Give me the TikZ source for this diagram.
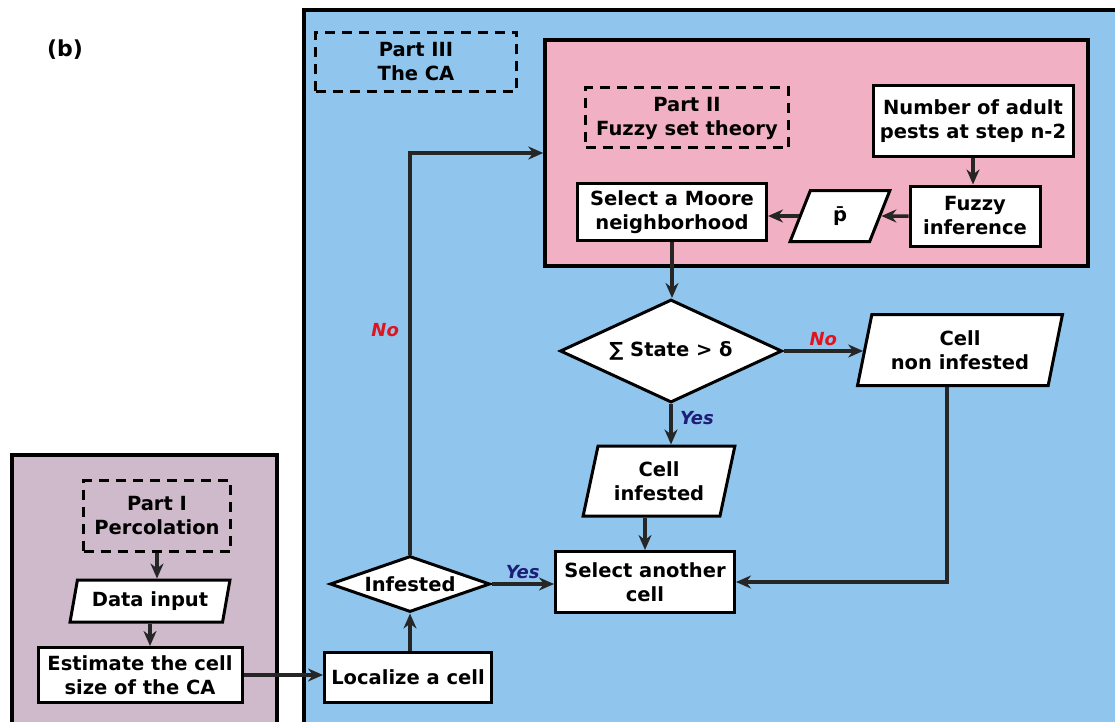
\documentclass[tikz,border=0pt]{standalone}
\usepackage{fontspec}
\setmainfont{DejaVu Sans}
\usetikzlibrary{arrows.meta,shapes.geometric}
\definecolor{panelblue}{RGB}{144,198,237}
\definecolor{panelpink}{RGB}{242,176,196}
\definecolor{panelmauve}{RGB}{206,186,203}
\definecolor{nored}{RGB}{225,20,30}
\definecolor{yesblue}{RGB}{30,30,120}
\tikzset{
  box/.style={draw, line width=3pt, fill=white, align=center, inner sep=2pt,
    font=\bfseries\fontsize{19.5}{24}\selectfont},
  databox/.style={box, trapezium, trapezium left angle=75, trapezium right angle=105,
    trapezium stretches=true},
  testbox/.style={box, diamond, inner sep=0pt},
  partbox/.style={draw, line width=3pt, dash pattern=on 10pt off 7pt, align=center,
    font=\bfseries\fontsize{19.5}{24}\selectfont},
  flow/.style={line width=3.5pt, draw=black!85, -{Stealth[length=15pt,width=13pt]}},
  answer/.style={font=\bfseries\itshape\fontsize{18}{20}\selectfont},
}
\begin{document}
\begin{tikzpicture}[x=1pt, y=-1pt]
    \useasboundingbox (0,0) rectangle (1115,722);
    % panels
    \fill[panelblue] (304,10) rectangle (1115,722);
    \draw[line width=3.5pt] (304,722) -- (304,10) -- (1115,10);
    \fill[panelmauve] (12,455) rectangle (277,722);
    \draw[line width=3.5pt] (12,722) -- (12,455) -- (277,455) -- (277,722);
    \node[draw, line width=3.5pt, fill=panelpink, minimum width=543pt, minimum height=226pt] (fuzzypanel) at (816.5,153) {};
    \node[font=\bfseries\fontsize{22}{24}\selectfont] (label) at (65,50) {(b)};
    % part titles
    \node[partbox, minimum width=201pt, minimum height=59pt] (partthree) at (416,62) {Part III\\The CA};
    \node[partbox, minimum width=203pt, minimum height=60pt] (parttwo) at (687,118) {Part II\\Fuzzy set theory};
    \node[partbox, minimum width=147pt, minimum height=71pt] (partone) at (157,516) {Part I\\Percolation};
    % fuzzy part
    \node[box, minimum width=200pt, minimum height=71pt] (numadult) at (973,121) {Number of adult\\pests at step n-2};
    \node[box, minimum width=130pt, minimum height=60pt] (fuzzy) at (975,216) {Fuzzy\\inference};
    \node[databox, minimum width=100pt, minimum height=51pt] (pbar) at (840,216) {\=p};
    \node[box, minimum width=189pt, minimum height=57pt] (moore) at (672,212) {Select a Moore\\neighborhood};
    % the CA
    \node[testbox, aspect=2.15, minimum width=222pt, minimum height=103pt] (state) at (671,351) {∑ State > δ};
    \node[databox, minimum width=205pt, minimum height=71pt] (noninf) at (960,350) {Cell\\non infested};
    \node[databox, minimum width=152pt, minimum height=70pt] (inf) at (659,481) {Cell\\infested};
    \node[box, minimum width=179pt, minimum height=61pt] (another) at (645,582) {Select another\\cell};
    \node[testbox, aspect=2.86, minimum width=160pt, minimum height=56pt] (infested) at (410,584) {Infested};
    \node[box, minimum width=167pt, minimum height=50pt] (localize) at (408,677) {Localize a cell};
    % percolation
    \node[databox, minimum width=160pt, minimum height=42pt] (datainput) at (150,601) {Data input};
    \node[box, minimum width=204pt, minimum height=55pt] (estimate) at (140,675) {Estimate the cell\\size of the CA};
    % connectors
    \draw[flow] (partone.south) -- (partone.south |- datainput.north);
    \draw[flow] (datainput.south) -- (datainput.south |- estimate.north);
    \draw[flow] (estimate.east) -- (estimate.east -| localize.west);
    \draw[flow] (infested.south |- localize.north) -- (infested.south);
    \draw[flow] (infested.north) |- (fuzzypanel.west) node[answer, text=nored, pos=0.28, left=6pt] {No};
    \draw[flow] (infested.east) -- (infested.east -| another.west) node[answer, text=yesblue, midway, above] {Yes};
    \draw[flow] (numadult.south) -- (numadult.south |- fuzzy.north);
    \draw[flow] (fuzzy.west) -- (pbar.east);
    \draw[flow] (pbar.west) -- (pbar.west -| moore.east);
    \draw[flow] (moore.south) -- (moore.south |- state.north);
    \draw[flow] (state.east) -- (state.east -| noninf.west) node[answer, text=nored, midway, above] {No};
    \draw[flow] (state.south) -- (state.south |- inf.north) node[answer, text=yesblue, pos=0.35, right=4pt] {Yes};
    \draw[flow] (inf.south -| another.north) -- (another.north);
    \draw[flow] ([xshift=-13pt]noninf.south) |- (another.east);
\end{tikzpicture}
\end{document}
